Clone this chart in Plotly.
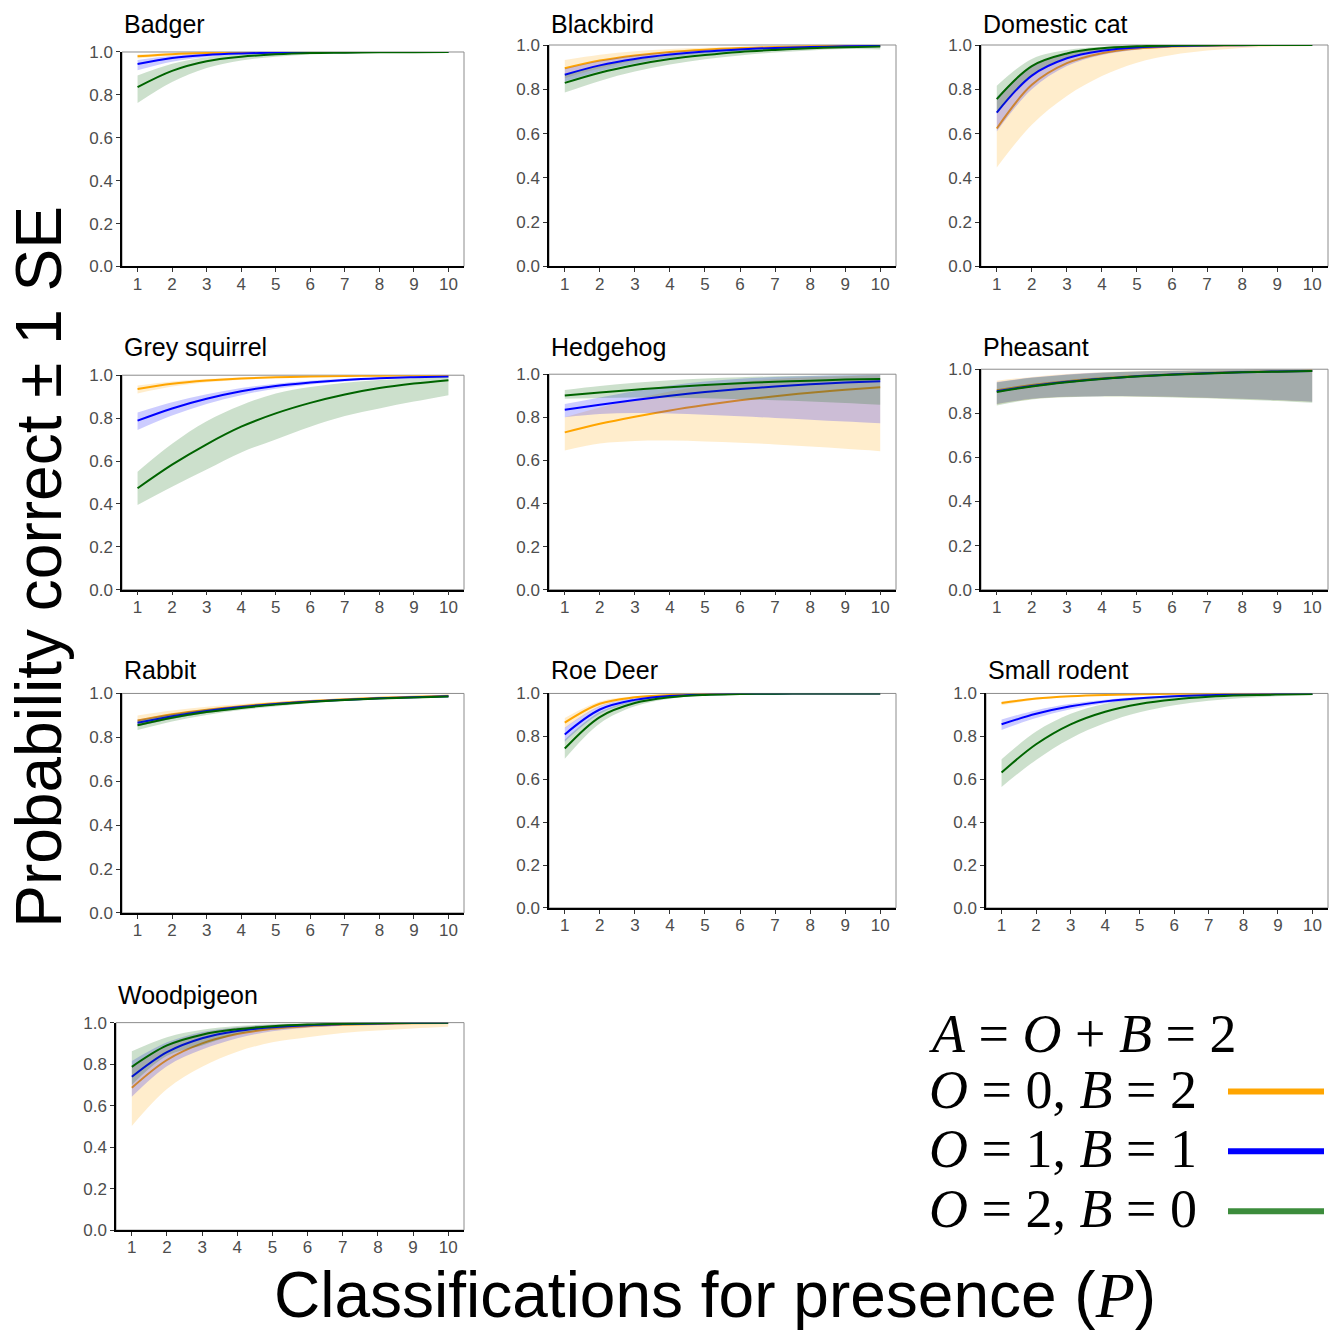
import plotly.graph_objects as go

W, H = 1329, 1332
# the page photo maps figure pixel p to roughly 7.9 + 0.988*p vertically;
# convert target photo rows to paper coordinates accordingly
V_OFF, V_SCALE = 7.9, 0.98813


def ypaper(p):
    return 1 - (p - V_OFF) / (H * V_SCALE)


P = [1, 2, 3, 4, 5, 6, 7, 8, 9, 10]
species = ["Badger", "Blackbird", "Domestic cat", "Grey squirrel", "Hedgehog",
           "Pheasant", "Rabbit", "Roe Deer", "Small rodent", "Woodpigeon"]
y_ticks = [0.0, 0.2, 0.4, 0.6, 0.8, 1.0]
y_tick_labels = ["0.0", "0.2", "0.4", "0.6", "0.8", "1.0"]
series_labels = ["O = 0, B = 2", "O = 1, B = 1", "O = 2, B = 0"]

# ---- Badger
badger_o0_mean = [0.980, 0.990, 0.995, 0.997, 0.998, 0.999, 1.0, 1.0, 1.0, 1.0]
badger_o0_lo = [0.970, 0.984, 0.992, 0.995, 0.997, 0.998, 0.999, 0.999, 1.0, 1.0]
badger_o0_hi = [0.988, 0.995, 0.998, 0.999, 0.999, 1.0, 1.0, 1.0, 1.0, 1.0]
badger_o1_mean = [0.944, 0.972, 0.986, 0.993, 0.997, 0.998, 0.999, 1.0, 1.0, 1.0]
badger_o1_lo = [0.915, 0.955, 0.977, 0.988, 0.994, 0.997, 0.998, 0.999, 1.0, 1.0]
badger_o1_hi = [0.963, 0.983, 0.992, 0.996, 0.998, 0.999, 1.0, 1.0, 1.0, 1.0]
badger_o2_mean = [0.836, 0.912, 0.957, 0.978, 0.989, 0.995, 0.997, 0.999, 0.999, 1.0]
badger_o2_lo = [0.762, 0.860, 0.925, 0.960, 0.978, 0.988, 0.994, 0.997, 0.998, 0.999]
badger_o2_hi = [0.890, 0.945, 0.975, 0.989, 0.995, 0.998, 0.999, 1.0, 1.0, 1.0]

# ---- Blackbird
blackbird_o0_mean = [0.895, 0.930, 0.953, 0.969, 0.979, 0.986, 0.991, 0.994, 0.996, 0.997]
blackbird_o0_lo = [0.850, 0.895, 0.928, 0.951, 0.967, 0.978, 0.985, 0.990, 0.993, 0.995]
blackbird_o0_hi = [0.932, 0.956, 0.972, 0.982, 0.988, 0.992, 0.995, 0.997, 0.998, 0.999]
blackbird_o1_mean = [0.866, 0.908, 0.937, 0.957, 0.971, 0.980, 0.987, 0.991, 0.994, 0.996]
blackbird_o1_lo = [0.835, 0.882, 0.917, 0.942, 0.960, 0.972, 0.981, 0.987, 0.991, 0.994]
blackbird_o1_hi = [0.893, 0.929, 0.954, 0.969, 0.979, 0.986, 0.991, 0.994, 0.996, 0.997]
blackbird_o2_mean = [0.829, 0.875, 0.910, 0.937, 0.955, 0.969, 0.978, 0.985, 0.990, 0.993]
blackbird_o2_lo = [0.785, 0.838, 0.880, 0.912, 0.936, 0.953, 0.966, 0.975, 0.982, 0.980]
blackbird_o2_hi = [0.866, 0.906, 0.935, 0.955, 0.969, 0.979, 0.986, 0.991, 0.994, 0.996]

# ---- Domestic cat
cat_o0_mean = [0.623, 0.820, 0.918, 0.963, 0.984, 0.993, 0.997, 0.999, 1.0, 1.0]
cat_o0_lo = [0.447, 0.640, 0.770, 0.860, 0.920, 0.955, 0.975, 0.987, 0.993, 0.996]
cat_o0_hi = [0.760, 0.905, 0.964, 0.987, 0.995, 0.998, 0.999, 1.0, 1.0, 1.0]
cat_o1_mean = [0.695, 0.862, 0.940, 0.974, 0.989, 0.995, 0.998, 0.999, 1.0, 1.0]
cat_o1_lo = [0.610, 0.800, 0.905, 0.955, 0.979, 0.990, 0.995, 0.998, 0.999, 1.0]
cat_o1_hi = [0.765, 0.905, 0.963, 0.986, 0.995, 0.998, 0.999, 1.0, 1.0, 1.0]
cat_o2_mean = [0.756, 0.905, 0.962, 0.985, 0.994, 0.998, 0.999, 1.0, 1.0, 1.0]
cat_o2_lo = [0.690, 0.865, 0.943, 0.976, 0.990, 0.996, 0.998, 0.999, 1.0, 1.0]
cat_o2_hi = [0.816, 0.937, 0.977, 0.992, 0.997, 0.999, 1.0, 1.0, 1.0, 1.0]

# ---- Grey squirrel
squirrel_o0_mean = [0.936, 0.960, 0.975, 0.985, 0.990, 0.994, 0.996, 0.998, 0.999, 0.999]
squirrel_o0_lo = [0.915, 0.947, 0.967, 0.979, 0.987, 0.992, 0.995, 0.997, 0.998, 0.999]
squirrel_o0_hi = [0.952, 0.971, 0.982, 0.989, 0.993, 0.996, 0.998, 0.999, 0.999, 1.0]
squirrel_o1_mean = [0.788, 0.845, 0.890, 0.925, 0.950, 0.966, 0.978, 0.986, 0.991, 0.994]
squirrel_o1_lo = [0.745, 0.812, 0.866, 0.907, 0.937, 0.957, 0.971, 0.981, 0.987, 0.991]
squirrel_o1_hi = [0.826, 0.874, 0.911, 0.940, 0.960, 0.974, 0.983, 0.989, 0.993, 0.996]
squirrel_o2_mean = [0.473, 0.583, 0.678, 0.760, 0.822, 0.871, 0.910, 0.940, 0.961, 0.977]
squirrel_o2_lo = [0.395, 0.480, 0.560, 0.640, 0.700, 0.760, 0.810, 0.845, 0.877, 0.907]
squirrel_o2_hi = [0.550, 0.680, 0.785, 0.860, 0.915, 0.945, 0.965, 0.978, 0.986, 0.992]

# ---- Hedgehog
hedgehog_o0_mean = [0.730, 0.770, 0.803, 0.832, 0.857, 0.879, 0.898, 0.914, 0.928, 0.940]
hedgehog_o0_lo = [0.646, 0.678, 0.690, 0.692, 0.688, 0.682, 0.674, 0.664, 0.654, 0.643]
hedgehog_o0_hi = [0.800, 0.845, 0.885, 0.920, 0.945, 0.965, 0.978, 0.986, 0.991, 0.995]
hedgehog_o1_mean = [0.835, 0.858, 0.880, 0.900, 0.917, 0.931, 0.943, 0.953, 0.961, 0.967]
hedgehog_o1_lo = [0.800, 0.815, 0.820, 0.818, 0.812, 0.805, 0.797, 0.789, 0.780, 0.772]
hedgehog_o1_hi = [0.862, 0.892, 0.922, 0.948, 0.966, 0.979, 0.987, 0.992, 0.995, 0.997]
hedgehog_o2_mean = [0.901, 0.915, 0.928, 0.940, 0.950, 0.958, 0.965, 0.970, 0.975, 0.978]
hedgehog_o2_lo = [0.886, 0.890, 0.892, 0.891, 0.888, 0.884, 0.879, 0.873, 0.866, 0.858]
hedgehog_o2_hi = [0.927, 0.945, 0.960, 0.972, 0.980, 0.986, 0.990, 0.993, 0.995, 0.997]

# ---- Pheasant
pheasant_o0_mean = [0.905, 0.928, 0.946, 0.959, 0.969, 0.977, 0.983, 0.987, 0.990, 0.993]
pheasant_o0_lo = [0.840, 0.865, 0.874, 0.877, 0.876, 0.874, 0.870, 0.865, 0.859, 0.852]
pheasant_o0_hi = [0.948, 0.965, 0.978, 0.986, 0.991, 0.994, 0.996, 0.997, 0.998, 0.999]
pheasant_o1_mean = [0.900, 0.924, 0.943, 0.957, 0.968, 0.976, 0.982, 0.986, 0.990, 0.992]
pheasant_o1_lo = [0.842, 0.866, 0.875, 0.878, 0.877, 0.875, 0.871, 0.866, 0.860, 0.853]
pheasant_o1_hi = [0.942, 0.962, 0.976, 0.985, 0.990, 0.993, 0.995, 0.997, 0.998, 0.999]
pheasant_o2_mean = [0.897, 0.922, 0.941, 0.956, 0.967, 0.975, 0.981, 0.986, 0.989, 0.992]
pheasant_o2_lo = [0.836, 0.863, 0.873, 0.876, 0.875, 0.872, 0.868, 0.862, 0.856, 0.848]
pheasant_o2_hi = [0.940, 0.961, 0.975, 0.984, 0.990, 0.993, 0.995, 0.997, 0.998, 0.999]

# ---- Rabbit
rabbit_o0_mean = [0.877, 0.905, 0.926, 0.942, 0.955, 0.965, 0.973, 0.980, 0.985, 0.989]
rabbit_o0_lo = [0.850, 0.885, 0.911, 0.931, 0.947, 0.959, 0.968, 0.976, 0.982, 0.986]
rabbit_o0_hi = [0.900, 0.922, 0.939, 0.952, 0.962, 0.970, 0.977, 0.983, 0.987, 0.991]
rabbit_o1_mean = [0.866, 0.896, 0.920, 0.938, 0.952, 0.963, 0.971, 0.978, 0.983, 0.987]
rabbit_o1_lo = [0.850, 0.884, 0.911, 0.931, 0.947, 0.959, 0.968, 0.976, 0.981, 0.985]
rabbit_o1_hi = [0.881, 0.908, 0.929, 0.945, 0.957, 0.967, 0.974, 0.980, 0.985, 0.989]
rabbit_o2_mean = [0.855, 0.889, 0.915, 0.934, 0.949, 0.961, 0.970, 0.977, 0.982, 0.986]
rabbit_o2_lo = [0.833, 0.872, 0.902, 0.924, 0.941, 0.955, 0.965, 0.973, 0.979, 0.983]
rabbit_o2_hi = [0.875, 0.905, 0.927, 0.944, 0.957, 0.967, 0.975, 0.981, 0.985, 0.989]

# ---- Roe Deer
deer_o0_mean = [0.864, 0.952, 0.982, 0.993, 0.997, 0.999, 1.0, 1.0, 1.0, 1.0]
deer_o0_lo = [0.838, 0.938, 0.976, 0.990, 0.996, 0.998, 0.999, 1.0, 1.0, 1.0]
deer_o0_hi = [0.886, 0.963, 0.987, 0.995, 0.998, 0.999, 1.0, 1.0, 1.0, 1.0]
deer_o1_mean = [0.809, 0.925, 0.970, 0.988, 0.995, 0.998, 0.999, 1.0, 1.0, 1.0]
deer_o1_lo = [0.775, 0.905, 0.960, 0.983, 0.993, 0.997, 0.999, 1.0, 1.0, 1.0]
deer_o1_hi = [0.840, 0.941, 0.978, 0.991, 0.997, 0.999, 1.0, 1.0, 1.0, 1.0]
deer_o2_mean = [0.743, 0.890, 0.955, 0.982, 0.993, 0.997, 0.999, 1.0, 1.0, 1.0]
deer_o2_lo = [0.695, 0.860, 0.940, 0.975, 0.990, 0.996, 0.998, 0.999, 1.0, 1.0]
deer_o2_hi = [0.785, 0.913, 0.966, 0.987, 0.995, 0.998, 0.999, 1.0, 1.0, 1.0]

# ---- Small rodent
rodent_o0_mean = [0.955, 0.976, 0.987, 0.993, 0.996, 0.998, 0.999, 1.0, 1.0, 1.0]
rodent_o0_lo = [0.945, 0.970, 0.984, 0.991, 0.995, 0.997, 0.999, 0.999, 1.0, 1.0]
rodent_o0_hi = [0.963, 0.980, 0.990, 0.995, 0.997, 0.999, 0.999, 1.0, 1.0, 1.0]
rodent_o1_mean = [0.856, 0.905, 0.940, 0.963, 0.978, 0.987, 0.992, 0.995, 0.997, 0.998]
rodent_o1_lo = [0.830, 0.885, 0.926, 0.954, 0.972, 0.983, 0.990, 0.994, 0.996, 0.998]
rodent_o1_hi = [0.878, 0.922, 0.952, 0.971, 0.983, 0.990, 0.994, 0.997, 0.998, 0.999]
rodent_o2_mean = [0.631, 0.763, 0.856, 0.915, 0.951, 0.972, 0.984, 0.991, 0.995, 0.997]
rodent_o2_lo = [0.564, 0.690, 0.790, 0.862, 0.912, 0.945, 0.966, 0.979, 0.987, 0.992]
rodent_o2_hi = [0.693, 0.822, 0.905, 0.952, 0.976, 0.988, 0.994, 0.997, 0.999, 0.999]

# ---- Woodpigeon
pigeon_o0_mean = [0.686, 0.820, 0.900, 0.945, 0.970, 0.983, 0.990, 0.994, 0.997, 0.998]
pigeon_o0_lo = [0.502, 0.680, 0.787, 0.860, 0.905, 0.930, 0.950, 0.962, 0.972, 0.980]
pigeon_o0_hi = [0.790, 0.895, 0.950, 0.977, 0.989, 0.995, 0.998, 0.999, 1.0, 1.0]
pigeon_o1_mean = [0.739, 0.858, 0.925, 0.960, 0.978, 0.988, 0.993, 0.996, 0.998, 0.999]
pigeon_o1_lo = [0.643, 0.790, 0.870, 0.925, 0.958, 0.975, 0.985, 0.991, 0.995, 0.997]
pigeon_o1_hi = [0.815, 0.905, 0.955, 0.978, 0.990, 0.995, 0.998, 0.999, 1.0, 1.0]
pigeon_o2_mean = [0.787, 0.890, 0.942, 0.968, 0.983, 0.991, 0.995, 0.997, 0.999, 0.999]
pigeon_o2_lo = [0.700, 0.840, 0.890, 0.945, 0.970, 0.983, 0.990, 0.995, 0.997, 0.998]
pigeon_o2_hi = [0.862, 0.930, 0.966, 0.984, 0.992, 0.996, 0.998, 0.999, 1.0, 1.0]

panel_data = [
    [(badger_o0_mean, badger_o0_lo, badger_o0_hi), (badger_o1_mean, badger_o1_lo, badger_o1_hi), (badger_o2_mean, badger_o2_lo, badger_o2_hi)],
    [(blackbird_o0_mean, blackbird_o0_lo, blackbird_o0_hi), (blackbird_o1_mean, blackbird_o1_lo, blackbird_o1_hi), (blackbird_o2_mean, blackbird_o2_lo, blackbird_o2_hi)],
    [(cat_o0_mean, cat_o0_lo, cat_o0_hi), (cat_o1_mean, cat_o1_lo, cat_o1_hi), (cat_o2_mean, cat_o2_lo, cat_o2_hi)],
    [(squirrel_o0_mean, squirrel_o0_lo, squirrel_o0_hi), (squirrel_o1_mean, squirrel_o1_lo, squirrel_o1_hi), (squirrel_o2_mean, squirrel_o2_lo, squirrel_o2_hi)],
    [(hedgehog_o0_mean, hedgehog_o0_lo, hedgehog_o0_hi), (hedgehog_o1_mean, hedgehog_o1_lo, hedgehog_o1_hi), (hedgehog_o2_mean, hedgehog_o2_lo, hedgehog_o2_hi)],
    [(pheasant_o0_mean, pheasant_o0_lo, pheasant_o0_hi), (pheasant_o1_mean, pheasant_o1_lo, pheasant_o1_hi), (pheasant_o2_mean, pheasant_o2_lo, pheasant_o2_hi)],
    [(rabbit_o0_mean, rabbit_o0_lo, rabbit_o0_hi), (rabbit_o1_mean, rabbit_o1_lo, rabbit_o1_hi), (rabbit_o2_mean, rabbit_o2_lo, rabbit_o2_hi)],
    [(deer_o0_mean, deer_o0_lo, deer_o0_hi), (deer_o1_mean, deer_o1_lo, deer_o1_hi), (deer_o2_mean, deer_o2_lo, deer_o2_hi)],
    [(rodent_o0_mean, rodent_o0_lo, rodent_o0_hi), (rodent_o1_mean, rodent_o1_lo, rodent_o1_hi), (rodent_o2_mean, rodent_o2_lo, rodent_o2_hi)],
    [(pigeon_o0_mean, pigeon_o0_lo, pigeon_o0_hi), (pigeon_o1_mean, pigeon_o1_lo, pigeon_o1_hi), (pigeon_o2_mean, pigeon_o2_lo, pigeon_o2_hi)],
]

# ---- layout (pixel boxes: left, right, top, bottom) and styles
panel_boxes = [
    (122, 464, 51, 266), (549, 896, 44, 266), (981, 1328, 44, 266),
    (122, 464, 375, 590), (549, 896, 374, 590), (981, 1328, 369, 590),
    (122, 464, 694, 914), (549, 896, 694, 909), (986, 1328, 694, 909),
    (116, 464, 1024, 1232),
]
title_y = [23, 23, 23, 347, 347, 347, 671, 671, 671, 996]
line_colors = ["#FFA500", "#0000FF", "#006400"]
fill_colors = ["rgba(255,165,0,0.2)", "rgba(0,0,255,0.2)", "rgba(0,100,0,0.2)"]
legend_line_colors = ["#FFA500", "#0000FF", "#3C8C3C"]

SANS = "Liberation Sans, Arial, sans-serif"
SERIF = "Liberation Serif, Times New Roman, serif"

fig = go.Figure()
layout = dict(
    width=W, height=H, margin=dict(l=0, r=0, t=0, b=0),
    paper_bgcolor="white", plot_bgcolor="white", showlegend=False,
    font=dict(family=SANS),
)
shapes = []
annotations = []

for i, (name, series, box) in enumerate(zip(species, panel_data, panel_boxes)):
    k = i + 1
    xa = "x" if k == 1 else f"x{k}"
    ya = "y" if k == 1 else f"y{k}"
    l, r, t, b = box
    for j, (m, lo, hi) in enumerate(series):
        fig.add_trace(go.Scatter(x=P, y=lo, xaxis=xa, yaxis=ya, mode="lines",
                                 line=dict(width=0, shape="spline", color=fill_colors[j]),
                                 hoverinfo="skip"))
        fig.add_trace(go.Scatter(x=P, y=hi, xaxis=xa, yaxis=ya, mode="lines",
                                 line=dict(width=0, shape="spline", color=fill_colors[j]),
                                 fill="tonexty", fillcolor=fill_colors[j], hoverinfo="skip"))
        fig.add_trace(go.Scatter(x=P, y=m, xaxis=xa, yaxis=ya, mode="lines",
                                 name=series_labels[j],
                                 line=dict(width=2, shape="spline", color=line_colors[j])))
    axis_common = dict(
        showgrid=False, zeroline=False, showline=True, linecolor="black", linewidth=1.5,
        ticks="outside", ticklen=4, tickwidth=1, tickcolor="#333333",
        tickfont=dict(family=SANS, size=17, color="#4D4D4D"),
    )
    layout["xaxis" if k == 1 else f"xaxis{k}"] = dict(
        axis_common, domain=[l / W, r / W], range=[0.55, 10.45],
        tickmode="array", tickvals=P, ticktext=[str(v) for v in P],
        anchor=ya, ticklabelstandoff=-3,
    )
    layout["yaxis" if k == 1 else f"yaxis{k}"] = dict(
        axis_common, domain=[ypaper(b), ypaper(t)], range=[0, 1],
        tickmode="array", tickvals=y_ticks, ticktext=y_tick_labels,
        anchor=xa,
    )
    shapes.append(dict(type="rect", xref=f"{xa} domain", yref=f"{ya} domain",
                       x0=0, x1=1, y0=0, y1=1, layer="below",
                       line=dict(color="#8C8C8C", width=1)))
    annotations.append(dict(text=name, x=l / W, y=ypaper(title_y[i]), xref="paper", yref="paper",
                            xanchor="left", yanchor="middle", showarrow=False,
                            font=dict(family=SANS, size=25, color="black")))

# axis titles
annotations.append(dict(text="Probability correct \u00b1 1 SE", x=39 / W, y=ypaper(567),
                        xref="paper", yref="paper", textangle=-90, showarrow=False,
                        xanchor="center", yanchor="middle",
                        font=dict(family=SANS, size=64, color="black")))
annotations.append(dict(text="Classifications for presence (<span style=\"font-family:Liberation Serif\"><i>P</i></span>)",
                        x=715 / W, y=ypaper(1297), xref="paper", yref="paper", showarrow=False,
                        xanchor="center", yanchor="middle",
                        font=dict(family=SANS, size=64, color="black")))

# legend (math-style key)
legend_rows = [
    ("<i>A</i> = <i>O</i> + <i>B</i> = 2", 1035),
    ("<i>O</i> = 0, <i>B</i> = 2", 1092),
    ("<i>O</i> = 1, <i>B</i> = 1", 1151),
    ("<i>O</i> = 2, <i>B</i> = 0", 1211),
]
for txt, yy in legend_rows:
    annotations.append(dict(text=txt, x=927 / W, y=ypaper(yy), xref="paper", yref="paper",
                            showarrow=False, xanchor="left", yanchor="middle",
                            font=dict(family=SERIF, size=54, color="black")))
for c, yy in zip(legend_line_colors, [1093, 1153, 1213]):
    shapes.append(dict(type="line", xref="paper", yref="paper",
                       x0=1228 / W, x1=1324 / W, y0=ypaper(yy), y1=ypaper(yy),
                       line=dict(color=c, width=6)))

layout["shapes"] = shapes
layout["annotations"] = annotations
fig.update_layout(**layout)
fig.write_html("out.html")
